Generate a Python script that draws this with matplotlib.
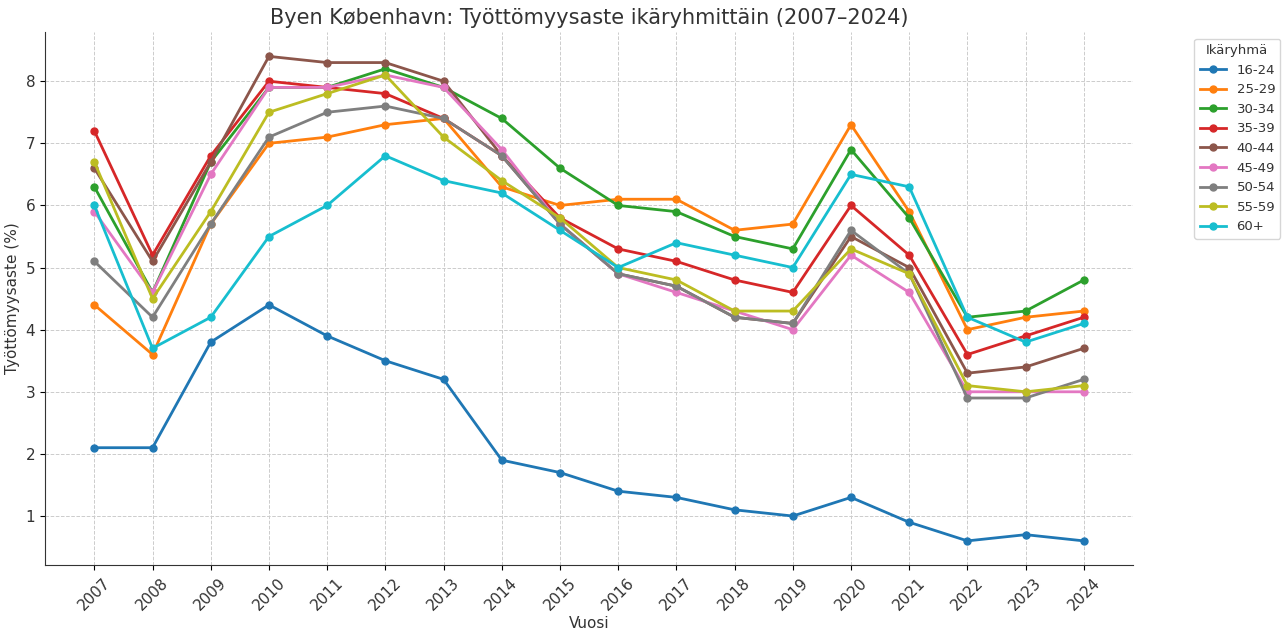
import matplotlib
matplotlib.use("Agg")
import matplotlib.pyplot as plt

years = list(range(2007, 2025))
groups = ["16-24", "25-29", "30-34", "35-39", "40-44", "45-49", "50-54", "55-59", "60+"]

g16_24 = [2.1, 2.1, 3.8, 4.4, 3.9, 3.5, 3.2, 1.9, 1.7, 1.4, 1.3, 1.1, 1.0, 1.3, 0.9, 0.6, 0.7, 0.6]
g25_29 = [4.4, 3.6, 5.7, 7.0, 7.1, 7.3, 7.4, 6.3, 6.0, 6.1, 6.1, 5.6, 5.7, 7.3, 5.9, 4.0, 4.2, 4.3]
g30_34 = [6.3, 4.6, 6.7, 7.9, 7.9, 8.2, 7.9, 7.4, 6.6, 6.0, 5.9, 5.5, 5.3, 6.9, 5.8, 4.2, 4.3, 4.8]
g35_39 = [7.2, 5.2, 6.8, 8.0, 7.9, 7.8, 7.4, 6.8, 5.8, 5.3, 5.1, 4.8, 4.6, 6.0, 5.2, 3.6, 3.9, 4.2]
g40_44 = [6.6, 5.1, 6.7, 8.4, 8.3, 8.3, 8.0, 6.8, 5.7, 4.9, 4.7, 4.2, 4.1, 5.5, 5.0, 3.3, 3.4, 3.7]
g45_49 = [5.9, 4.6, 6.5, 7.9, 7.9, 8.1, 7.9, 6.9, 5.7, 4.9, 4.6, 4.3, 4.0, 5.2, 4.6, 3.0, 3.0, 3.0]
g50_54 = [5.1, 4.2, 5.7, 7.1, 7.5, 7.6, 7.4, 6.8, 5.7, 4.9, 4.7, 4.2, 4.1, 5.6, 4.9, 2.9, 2.9, 3.2]
g55_59 = [6.7, 4.5, 5.9, 7.5, 7.8, 8.1, 7.1, 6.4, 5.8, 5.0, 4.8, 4.3, 4.3, 5.3, 4.9, 3.1, 3.0, 3.1]
g60p = [6.0, 3.7, 4.2, 5.5, 6.0, 6.8, 6.4, 6.2, 5.6, 5.0, 5.4, 5.2, 5.0, 6.5, 6.3, 4.2, 3.8, 4.1]

series = [g16_24, g25_29, g30_34, g35_39, g40_44, g45_49, g50_54, g55_59, g60p]
colors = ["#1f77b4", "#ff7f0e", "#2ca02c", "#d62728", "#8c564b",
          "#e377c2", "#7f7f7f", "#bcbd22", "#17becf"]

title = "Byen København: Työttömyysaste ikäryhmittäin (2007–2024)"
xlabel = "Vuosi"
ylabel = "Työttömyysaste (%)"
legend_title = "Ikäryhmä"

txt = "#333333"
fig = plt.figure(figsize=(12.82, 6.30), dpi=100)
ax = fig.add_axes([0.035, 0.103, 0.849, 0.846])

for name, vals, c in zip(groups, series, colors):
    ax.plot(years, vals, marker="o", linewidth=2, markersize=5, label=name, color=c)

ax.set_xticks(years)
ax.set_xticklabels([str(y) for y in years], rotation=45, color=txt, fontsize=11)
ax.tick_params(axis="y", labelsize=11, labelcolor=txt)
ax.grid(True, linestyle="--", color="#cccccc", linewidth=0.7)
ax.set_axisbelow(True)
for s in ["top", "right"]:
    ax.spines[s].set_visible(False)
for s in ["left", "bottom"]:
    ax.spines[s].set_color("#333333")

ax.set_title(title, fontsize=15, color=txt, pad=6)
ax.set_xlabel(xlabel, fontsize=11, color=txt, labelpad=2)
ax.set_ylabel(ylabel, fontsize=11, color=txt)

leg = ax.legend(title=legend_title, loc="upper left", bbox_to_anchor=(1.05, 1.0),
                fontsize=9.5, title_fontsize=9.5, frameon=True)
for t in leg.get_texts():
    t.set_color(txt)
leg.get_title().set_color(txt)

fig.savefig("out.png", dpi=100)
